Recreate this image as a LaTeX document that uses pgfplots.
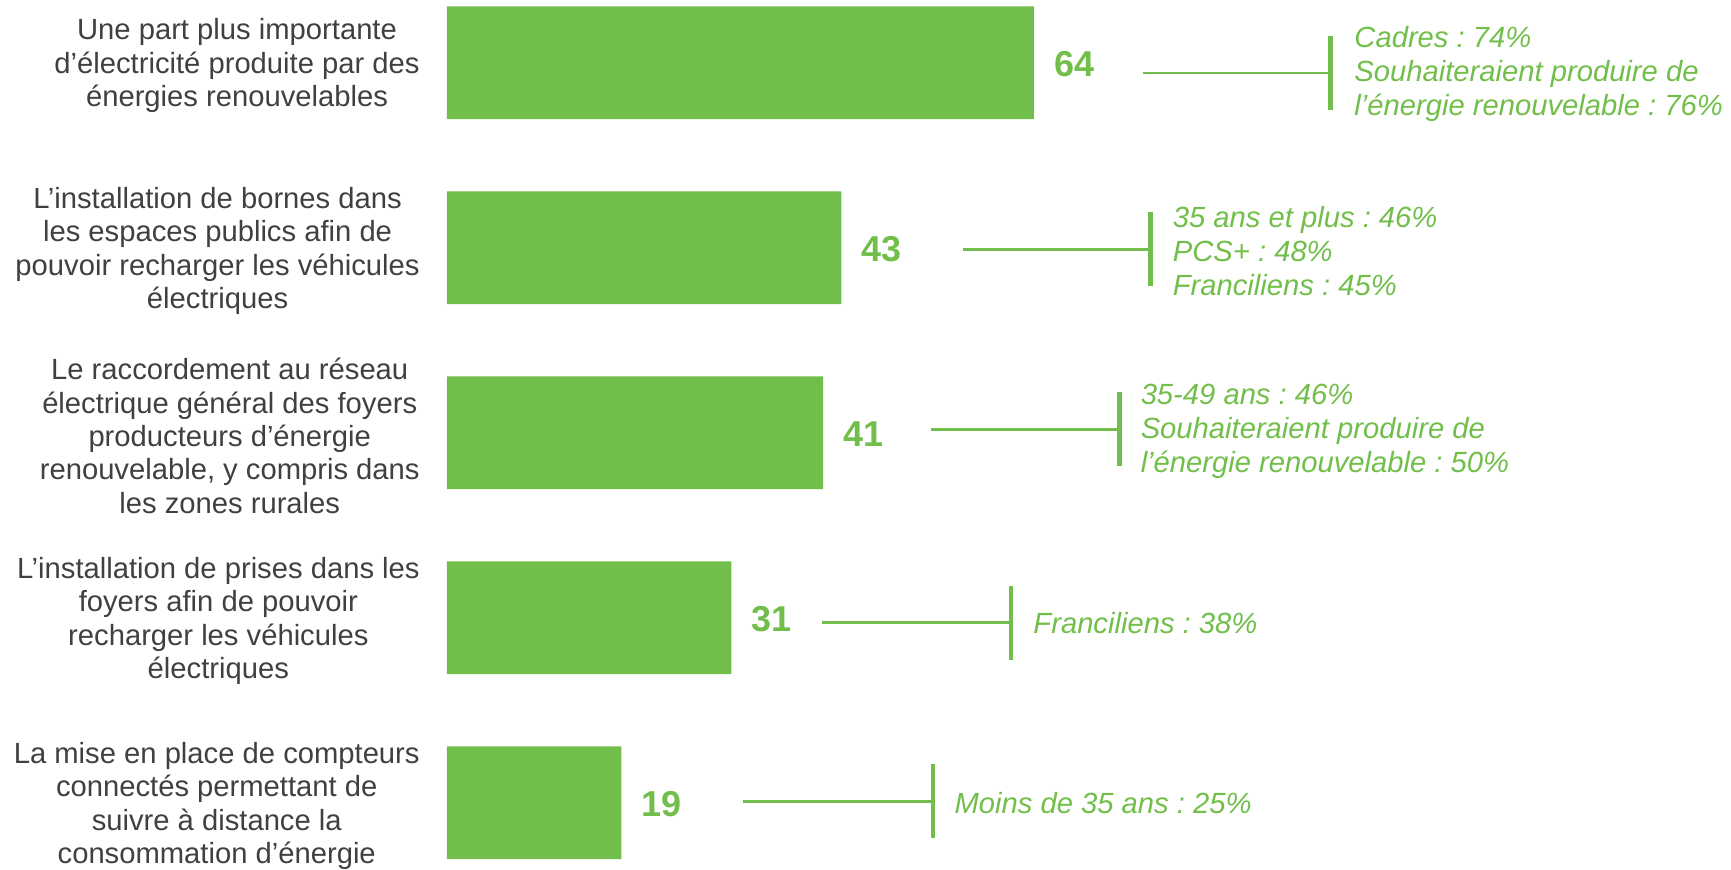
\documentclass[border=0pt]{standalone}
\usepackage{fontspec}
\setmainfont{Liberation Sans}
\usepackage{pgfplots}
\pgfplotsset{compat=1.18}

\definecolor{vert}{RGB}{113,191,74}
\definecolor{gristexte}{RGB}{64,64,64}

\newcommand\catfont{\fontsize{14.6}{16.7}\selectfont}
\newcommand\annfont{\fontsize{14.6}{17}\selectfont\itshape}

\begin{document}
\frenchspacing
\begin{tikzpicture}
\useasboundingbox (0,0) rectangle (865.5pt,434.5pt);
\begin{axis}[
    at={(223.5pt,0pt)}, anchor=south west,
    scale only axis, width=642pt, height=434.5pt,
    xmin=0, xmax=140, ymin=-0.3395, ymax=4.358,
    y dir=reverse, hide axis, clip=false,
    /pgf/number format/assume math mode=true,
]
% scores
\addplot[xbar, bar width=0.609, fill=vert, draw=none,
    nodes near coords, point meta=x, nodes near coords align={horizontal},
    every node near coord/.append style={anchor=west, inner sep=0pt, xshift=10pt, yshift=-0.8pt,
        text=vert, font=\fontsize{18}{20}\selectfont\bfseries}]
    coordinates {(64,0) (43,1) (41,2) (31,3) (19,4)};

% connectors
\addplot[vert, line width=1.4pt] coordinates {(75.9,0.055) (96.3,0.055)};
\addplot[vert, line width=2.4pt] coordinates {(96.3,-0.145) (96.3,0.255)};
\addplot[vert, line width=1.4pt] coordinates {(56.3,1.009) (76.7,1.009)};
\addplot[vert, line width=2.4pt] coordinates {(76.7,0.809) (76.7,1.209)};
\addplot[vert, line width=1.4pt] coordinates {(52.8,1.982) (73.3,1.982)};
\addplot[vert, line width=2.4pt] coordinates {(73.3,1.782) (73.3,2.182)};
\addplot[vert, line width=1.4pt] coordinates {(40.9,3.026) (61.5,3.026)};
\addplot[vert, line width=2.4pt] coordinates {(61.5,2.826) (61.5,3.226)};
\addplot[vert, line width=1.4pt] coordinates {(32.3,3.993) (53.0,3.993)};
\addplot[vert, line width=2.4pt] coordinates {(53.0,3.793) (53.0,4.193)};

% category labels
\begin{scope}[every node/.style={anchor=east, align=center, text=gristexte, font=\catfont, inner sep=0pt, yshift=-1.5pt}]
\node at (axis cs:-2.94,0) {Une part plus importante\\d’électricité produite par des\\énergies renouvelables};
\node at (axis cs:-2.94,1) {L’installation de bornes dans\\les espaces publics afin de\\pouvoir recharger les véhicules\\électriques};
\node at (axis cs:-2.94,2) {Le raccordement au réseau\\électrique général des foyers\\producteurs d’énergie\\renouvelable, y compris dans\\les zones rurales};
\node at (axis cs:-2.94,3) {L’installation de prises dans les\\foyers afin de pouvoir\\recharger les véhicules\\électriques};
\node at (axis cs:-2.94,4) {La mise en place de compteurs\\connectés permettant de\\suivre à distance la\\consommation d’énergie};
\end{scope}

% sub-group notes
\begin{scope}[every node/.style={anchor=west, align=left, text=vert, font=\annfont, inner sep=0pt}]
\node at (axis cs:98.9,0.06) {Cadres : 74\%\\Souhaiteraient produire de\\l’énergie renouvelable : 76\%};
\node at (axis cs:79.1,1.017) {35 ans et plus : 46\%\\PCS+ : 48\%\\Franciliens : 45\%};
\node at (axis cs:75.6,1.99) {35-49 ans : 46\%\\Souhaiteraient produire de\\l’énergie renouvelable : 50\%};
\node at (axis cs:63.9,3.03) {Franciliens : 38\%};
\node at (axis cs:55.3,4.0) {Moins de 35 ans : 25\%};
\end{scope}
\end{axis}
\end{tikzpicture}
\end{document}
